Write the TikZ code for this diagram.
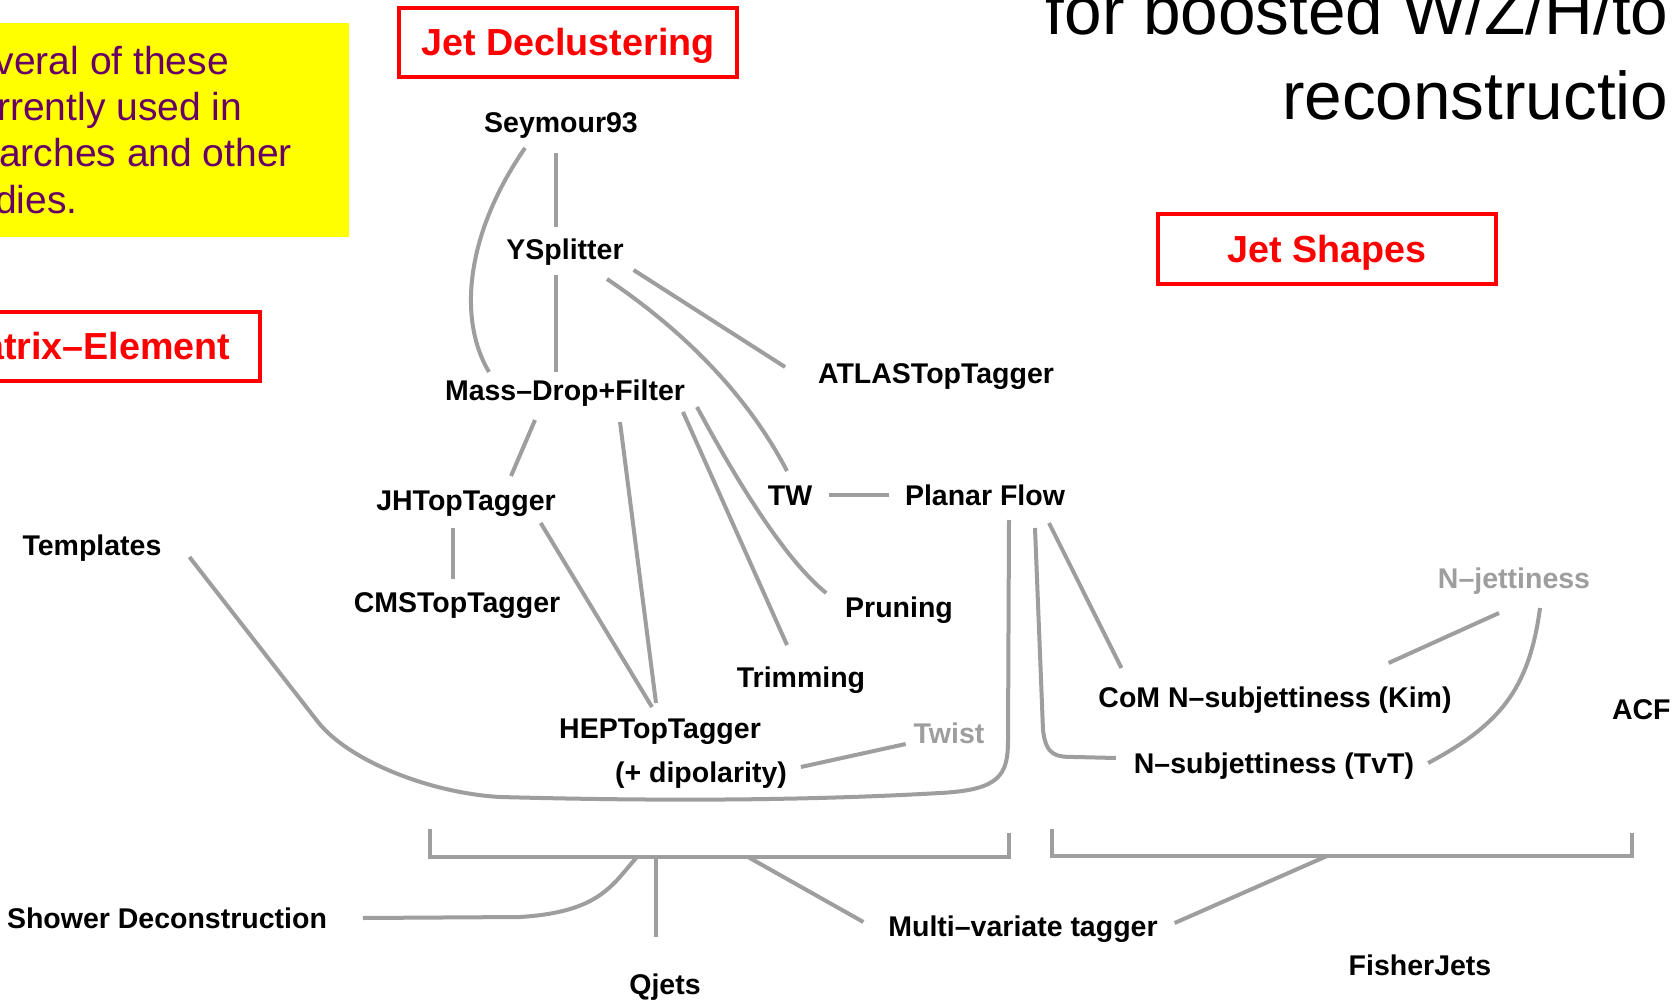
\documentclass[tikz,border=0pt]{standalone}
\usepackage{fontspec}
\setmainfont{Liberation Sans}
\definecolor{boxred}{HTML}{FF0000}
\definecolor{linkgrey}{HTML}{9E9E9E}
\definecolor{notepurple}{HTML}{660066}
\definecolor{noteyellow}{HTML}{FFFF00}

\begin{document}
\begin{tikzpicture}[
  x=1pt, y=-1pt,
  every node/.style={inner sep=0pt, outer sep=0pt},
  tagger/.style={
    font=\fontsize{28.5}{34}\selectfont\bfseries,
    text height=20pt,
    text depth=6pt,
    anchor=base,
  },
  faint/.style={tagger, text=linkgrey},
  heading/.style={
    draw=boxred,
    line width=4pt,
    fill=white,
    minimum width=338pt,
    minimum height=69pt,
    text=boxred,
    font=\fontsize{37.7}{44}\selectfont\bfseries,
    text height=27pt,
    text depth=0pt,
  },
  note/.style={font=\fontsize{39}{46}\selectfont, text=notepurple, anchor=base west},
  title/.style={font=\fontsize{67.5}{80}\selectfont, anchor=base east},
  link/.style={draw=linkgrey, line width=4pt},
]
  \clip (0,0) rectangle (1672,1000);
  \fill[white] (0,0) rectangle (1672,1000);

  \fill[noteyellow] (-10,23) rectangle (349,237);
  \foreach \txt/\dx [count=\i] in {Several of these/-53, currently used in/-44, searches and other/-42, studies./-57}
    \node[note] (note\i) at (\dx,28+46.3*\i) {\txt};

  \node[title] (title1) at (1706,35) {for boosted W/Z/H/top};
  \node[title] (title2) at (1706,120) {reconstruction};

  \node[heading] (decl) at (568,42.5) {Jet Declustering};
  \node[heading] (shapes) at (1327,249) {Jet Shapes};
  \node[heading] (matel) at (91,346) {Matrix--Element};

  \node[tagger] (sey) at (561,133) {Seymour93};
  \node[tagger] (yspl) at (565,260) {YSplitter};
  \node[tagger] (md) at (565,400) {Mass--Drop+Filter};
  \node[tagger] (atlas) at (936,383) {ATLASTopTagger};
  \node[tagger] (jh) at (466,510) {JHTopTagger};
  \node[tagger] (cms) at (457,612) {CMSTopTagger};
  \node[tagger] (tmpl) at (92,555) {Templates};
  \node[tagger] (hep) at (660,738) {HEPTopTagger};
  \node[tagger] (dipol) at (701,782) {(+ dipolarity)};
  \node[tagger] (tw) at (790,505) {TW};
  \node[tagger] (planar) at (985,505) {Planar Flow};
  \node[tagger] (prun) at (899,617) {Pruning};
  \node[tagger] (trim) at (801,687) {Trimming};
  \node[faint] (twist) at (949,743) {Twist};
  \node[tagger] (com) at (1275,707) {CoM N--subjettiness (Kim)};
  \node[tagger] (tvt) at (1274,773) {N--subjettiness (TvT)};
  \node[faint] (njet) at (1514,588) {N--jettiness};
  \node[tagger, anchor=base west] (acf) at (1612,719) {ACF};
  \node[tagger] (shower) at (167,928) {Shower Deconstruction};
  \node[tagger] (qjets) at (665,994) {Qjets};
  \node[tagger] (mva) at (1023,936) {Multi--variate tagger};
  \node[tagger] (fisher) at (1420,975) {FisherJets};

  \draw[link] (430,829) -- (430,857) -- (1009,857) -- (1009,833);
  \draw[link] (1052,829) -- (1052,856) -- (1632,856) -- (1632,833);
  \coordinate (showerfoot) at (637,857);
  \coordinate (qjetsfoot) at (656,857);
  \coordinate (mvafootL) at (748,857);
  \coordinate (mvafootR) at (1327,856);

  \draw[link] ([shift={(-5,14)}]sey.south) -- ([shift={(-9,-13)}]yspl.north);
  \draw[link] ([shift={(-9,9)}]yspl.south) -- ([shift={(-9,-8)}]md.north);
  \draw[link] ([shift={(-36,9)}]sey.south) .. controls +(-60,87) and +(-31,-52) .. ([shift={(-76,-8)}]md.north);
  \draw[link] ([shift={(10,4)}]yspl.south east) -- ([shift={(-33,-9)}]atlas.west);
  \draw[link] ([shift={(42,13)}]yspl.south) .. controls +(83,56) and +(-37,-71) .. ([shift={(-3,-14)}]tw.north);
  \draw[link] ([shift={(-30,14)}]md.south) -- ([shift={(45,-14)}]jh.north);
  \draw[link] ([shift={(55,16)}]md.south) -- ([shift={(-4,-15)}]hep.north);
  \draw[link] ([shift={(-15,7)}]jh.south east) -- ([shift={(-8,-11)}]hep.north);
  \draw[link] ([shift={(-13,12)}]jh.south) -- ([shift={(-4,-13)}]cms.north);
  \draw[link] ([shift={(-2,6)}]md.south east) -- ([shift={(-14,-22)}]trim.north);
  \draw[link] ([shift={(12,1)}]md.south east) .. controls +(48,89) and +(-37,-30) .. ([shift={(-19,-17)}]prun.west);
  \draw[link] ([shift={(17,-3)}]tw.east) -- ([shift={(-16,-3)}]planar.west);
  \draw[link] ([shift={(28,9)}]tmpl.east) -- (318,722)
    .. controls (349,761) and (430,793) .. (500,797)
    .. controls (650,801) and (800,801) .. (940,793)
    .. controls (1000,790) and (1008,775) .. (1008,740)
    -- ([shift={(24,9)}]planar.south);
  \draw[link] ([shift={(50,17)}]planar.south) -- (1043,730)
    .. controls (1046,756) and (1056,757) .. (1075,757)
    -- ([shift={(-18,-8)}]tvt.west);
  \draw[link] ([shift={(64,12)}]planar.south) -- ([shift={(23,-19)}]com.north west);
  \draw[link] ([shift={(-15,19)}]njet.south) -- ([shift={(-63,-24)}]com.north east);
  \draw[link] ([shift={(26,14)}]njet.south) .. controls +(-11,82) and +(71,-38) .. ([shift={(14,-3)}]tvt.east);
  \draw[link] ([shift={(14,-8)}]dipol.east) -- ([shift={(-8,8)}]twist.west);
  \draw[link] ([shift={(36,-3)}]shower.east) -- (520,917)
    .. controls (600,912) and (612,885) .. (showerfoot);
  \draw[link] (qjetsfoot) -- ([shift={(-9,-37)}]qjets.north);
  \draw[link] (mvafootL) -- ([shift={(-25,-7)}]mva.west);
  \draw[link] (mvafootR) -- ([shift={(17,-6)}]mva.east);
\end{tikzpicture}
\end{document}
